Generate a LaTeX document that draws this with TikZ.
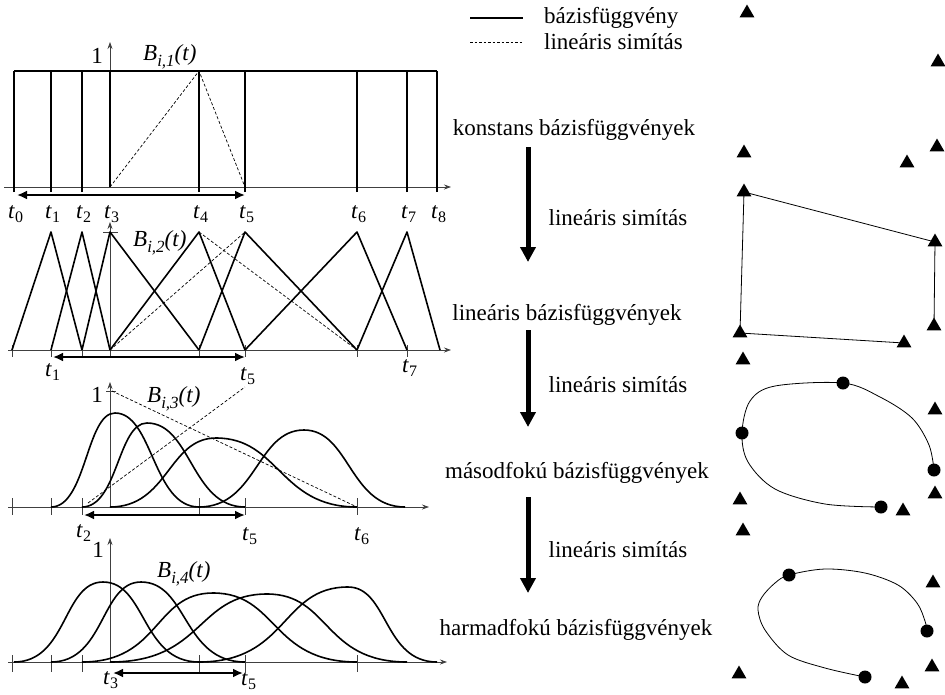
\documentclass[tikz,border=0pt]{standalone}
\usepackage{fontspec}
\setmainfont{Liberation Serif}
\usetikzlibrary{arrows.meta,shapes.geometric}

\newcommand{\kn}[1]{\textit{t}\raisebox{-0.45ex}{\fontsize{16}{16}\selectfont #1}}
\newcommand{\bfn}[1]{\textit{B}\raisebox{-0.6ex}{\fontsize{17}{17}\selectfont\textit{i,#1}}\textit{(t)}}

\tikzset{
  txt/.style={font=\fontsize{23}{26}\selectfont, inner sep=0pt},
  axis/.style={line width=0.7pt, black!75, -{Stealth[length=7pt,width=5pt]}},
  tick/.style={line width=0.7pt, black!75},
  basis/.style={line width=1.6pt, line join=round},
  smoothing/.style={line width=0.7pt, dash pattern=on 3pt off 2pt},
  span/.style={line width=2.4pt, {Latex[length=10pt,width=9pt]}-{Latex[length=10pt,width=9pt]}},
  bigarrow/.style={line width=5pt, -{Triangle[length=15pt,width=15pt]}},
  ctrl/.style={regular polygon, regular polygon sides=3, fill, inner sep=0pt, minimum size=17pt},
  cpt/.style={circle, fill, inner sep=0pt, minimum size=13pt},
}

\begin{document}
\begin{tikzpicture}[x=1pt, y=-1pt]
  \useasboundingbox (0,0) rectangle (945,694);

  % konstans
  \draw[axis] (4,187) -- (451,187);
  \draw[axis] (110,187) -- (110,42);
  \draw[basis] (14,71) -- (437,71);
  \foreach \x in {14,51,82,199,245,357,407,437}
    \draw[basis] (\x,192) -- (\x,71);
  \draw[basis, line width=2.6pt] (110,187) -- (110,71);
  \draw[smoothing] (110,187) -- (199,71) -- (245,187);
  \draw[span] (17,195) -- (245,195);
  \node[txt, anchor=base east] (one1) at (103,63) {1};
  \node[txt, anchor=base west] (b1) at (143,60) {\bfn{1}};
  \foreach \x/\i in {14/0,51/1,82/2,110/3,199/4,245/5,357/6,407/7,437/8}
    \node[txt, anchor=base west] (ka\i) at (\x-6,218) {\kn{\i}};

  % linearis
  \draw[axis] (8,350) -- (451,350);
  \draw[axis] (110,350) -- (110,222);
  \draw[tick] (103,232) -- (118,232);
  \foreach \x in {12,51,82,110,199,245,357,407}
    \draw[tick] (\x,345) -- (\x,357);
  \foreach \a/\p/\b in {12/51/82, 51/82/110, 82/110/199, 110/199/245,
                        199/245/357, 245/357/407, 357/407/440}
    \draw[basis] (\a,350) -- (\p,232) -- (\b,350);
  \draw[smoothing] (110,350) -- (245,232);
  \draw[smoothing] (199,232) -- (357,350);
  \draw[span] (53,357) -- (245,357);
  \node[txt, anchor=base west] (b2) at (133,246) {\bfn{2}};
  \node[txt, anchor=base west] (kb1) at (45,376) {\kn{1}};
  \node[txt, anchor=base west] (kb5) at (240,380) {\kn{5}};
  \node[txt, anchor=base west] (kb7) at (402,372) {\kn{7}};

  % masodfoku
  \draw[axis] (8,507) -- (429,507);
  \draw[axis] (110,507) -- (110,382);
  \draw[tick] (106,391) -- (116,391);
  \foreach \x in {12,51,82,199,245,357}
    \draw[tick] (\x,498) -- (\x,515);
  \foreach \a/\p/\h/\b in {51/115/413/199, 82/147/423/245,
                           110/216/438/357, 199/304/430/405}
    \draw[basis] (\a,507) .. controls ({\a+0.55*(\p-\a)},507) and ({\p-0.45*(\p-\a)},\h) .. (\p,\h)
      .. controls ({\p+0.45*(\b-\p)},\h) and ({\b-0.55*(\b-\p)},507) .. (\b,507);
  \draw[smoothing] (112,391) -- (357,507);
  \draw[smoothing] (88,503) -- (245,387);
  \draw[span] (84,515) -- (245,515);
  \node[txt, anchor=base east] (one3) at (103,402) {1};
  \node[txt, anchor=base west] (b3) at (147,402) {\bfn{3}};
  \node[txt, anchor=base west] (kc2) at (76,537) {\kn{2}};
  \node[txt, anchor=base west] (kc5) at (242,540) {\kn{5}};
  \node[txt, anchor=base west] (kc6) at (354,540) {\kn{6}};

  % harmadfoku
  \draw[axis] (8,662) -- (447,662);
  \draw[axis] (110,662) -- (110,538);
  \foreach \x in {12,51,82,199,245,357}
    \draw[tick] (\x,655) -- (\x,672);
  \foreach \a/\p/\h/\b in {14/103/582/199, 51/141/582/245, 82/213/593/357,
                           110/267/594/407, 199/348/587/437}
    \draw[basis] (\a,662) .. controls ({\a+0.6*(\p-\a)},662) and ({\p-0.45*(\p-\a)},\h) .. (\p,\h)
      .. controls ({\p+0.45*(\b-\p)},\h) and ({\b-0.6*(\b-\p)},662) .. (\b,662);
  \draw[span] (113,673) -- (243,673);
  \node[txt, anchor=base east] (one4) at (104,557) {1};
  \node[txt, anchor=base west] (b4) at (157,577) {\bfn{4}};
  \node[txt, anchor=base west] (kd3) at (103,684) {\kn{3}};
  \node[txt, anchor=base west] (kd5) at (241,685) {\kn{5}};

  % jelmagyarazat
  \coordinate (l1a) at (470,18);
  \coordinate (l1b) at (523,18);
  \coordinate (l2a) at (470,42);
  \coordinate (l2b) at (523,42);
  \draw[basis] (l1a) -- (l1b);
  \draw[smoothing, line width=1pt, dash pattern=on 2.5pt off 2pt] (l2a) -- (l2b);
  \node[txt, anchor=west] (lg1) at (544,18) {bázisfüggvény};
  \node[txt, anchor=west] (lg2) at (544,42) {lineáris simítás};

  % lepesek
  \node[txt, anchor=base] (konst) at (574,135) {konstans bázisfüggvények};
  \node[txt, anchor=base] (linb) at (567,320) {lineáris bázisfüggvények};
  \node[txt, anchor=base] (masb) at (577,478) {másodfokú bázisfüggvények};
  \node[txt, anchor=base] (harmb) at (576,635) {harmadfokú bázisfüggvények};
  \node[txt, anchor=base] (sim1) at (618,225) {lineáris simítás};
  \node[txt, anchor=base] (sim2) at (618,392) {lineáris simítás};
  \node[txt, anchor=base] (sim3) at (618,557) {lineáris simítás};
  \coordinate (s1a) at (528,147);
  \coordinate (s1b) at (528,262);
  \coordinate (s2a) at (528,330);
  \coordinate (s2b) at (528,427);
  \coordinate (s3a) at (528,497);
  \coordinate (s3b) at (528,593);
  \draw[bigarrow] (s1a) -- (s1b);
  \draw[bigarrow] (s2a) -- (s2b);
  \draw[bigarrow] (s3a) -- (s3b);

  % kontrollpontok
  \foreach \x/\y [count=\n] in {747/13, 938/62, 744/153, 937/147, 907/163}
    \node[ctrl] (pa\n) at (\x,\y) {};
  \foreach \x/\y [count=\n] in {744/192, 935/242, 934/326, 740/333, 904/343, 743/360}
    \node[ctrl] (pb\n) at (\x,\y) {};
  \draw[line width=0.8pt] (pb5.center) -- (pb4.center) -- (pb1.center) -- (pb2.center) -- (pb3.center);
  \foreach \x/\y [count=\n] in {935/410, 935/494, 740/500, 903/511, 743/531}
    \node[ctrl] (pc\n) at (\x,\y) {};
  \foreach \x/\y [count=\n] in {933/583, 932/667, 739/674, 902/684}
    \node[ctrl] (pd\n) at (\x,\y) {};

  % gorbek
  \node[cpt] (qa) at (881,507) {};
  \node[cpt] (qb) at (742,433) {};
  \node[cpt] (qc) at (843,383) {};
  \node[cpt] (qd) at (934,470) {};
  \draw[line width=0.8pt] plot[smooth, tension=0.55] coordinates {(881,507) (825,504) (775,489)
    (748,462) (742,433) (750,401) (775,386) (843,383) (880,397) (912,418) (929,445) (934,470)};
  \node[cpt] (ra) at (865,677) {};
  \node[cpt] (rb) at (789,575) {};
  \node[cpt] (rc) at (927,631) {};
  \draw[line width=0.8pt] plot[smooth, tension=0.55] coordinates {(865,677) (825,668) (788,655)
    (765,630) (758,610) (762,597) (775,583) (789,575) (825,569) (865,573) (898,585) (917,603)
    (925,621) (927,631)};
\end{tikzpicture}
\end{document}
